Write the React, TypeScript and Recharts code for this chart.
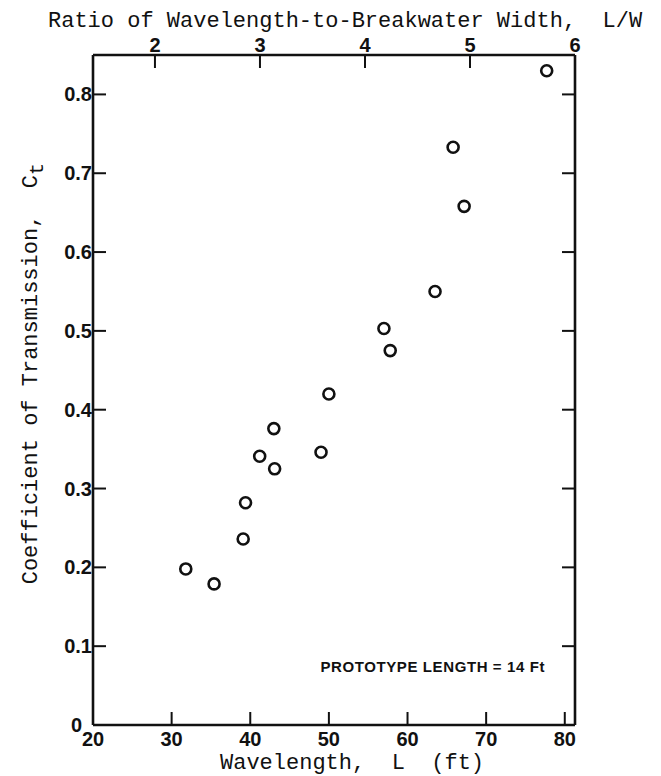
import { ScatterChart, Scatter, XAxis, YAxis } from "recharts";

document.body.style.margin = "0";

// wavelength L (ft) and transmission coefficient Ct
const wavelength = [31.8, 35.4, 39.1, 39.4, 41.2, 43.0, 43.1, 49.0, 50.0, 57.0, 57.8, 63.5, 65.8, 67.2, 77.7];
const transmission = [0.198, 0.179, 0.236, 0.282, 0.341, 0.376, 0.325, 0.346, 0.42, 0.503, 0.475, 0.55, 0.733, 0.658, 0.83];

const wavelengthTicks = [20, 30, 40, 50, 60, 70, 80];
const ratioTicks = [2, 3, 4, 5, 6];
const ctTicks = [0, 0.1, 0.2, 0.3, 0.4, 0.5, 0.6, 0.7, 0.8];

const points = wavelength.map((L, i) => ({ L, ct: transmission[i] }));
const ratioAnchors = ratioTicks.map((ratio) => ({ ratio, ct: 0 }));

const mono = "'Liberation Mono', 'DejaVu Sans Mono', monospace";
const tickFont = {
    fontFamily: "'Liberation Sans', Arial, sans-serif",
    fontWeight: 700,
    fontSize: 20,
    fill: "#111",
};
const INNER = 13;

const BottomTick = (props: any) => {
    const { x, y, payload } = props;
    return (
        <g>
            <line x1={x} x2={x} y1={y} y2={y - INNER} stroke="#111" strokeWidth={2} />
            <text x={x} y={y + 21} textAnchor="middle" style={tickFont}>
                {payload.value}
            </text>
        </g>
    );
};

const TopTick = (props: any) => {
    const { x, y, payload } = props;
    return (
        <g>
            <line x1={x} x2={x} y1={y} y2={y + INNER} stroke="#111" strokeWidth={2} />
            <text x={x} y={y - 3} textAnchor="middle" style={tickFont}>
                {payload.value}
            </text>
        </g>
    );
};

const LeftTick = (props: any) => {
    const { x, y, payload } = props;
    const v = payload.value as number;
    const label = v === 0 ? "0" : v.toFixed(1);
    return (
        <g>
            {v !== 0 && (
                <line x1={x} x2={x + INNER} y1={y} y2={y} stroke="#111" strokeWidth={2} />
            )}
            <text x={v === 0 ? x - 11 : x - 1} y={y + 7} textAnchor="end" style={tickFont}>
                {label}
            </text>
        </g>
    );
};

const RightTick = (props: any) => {
    const { x, y, payload } = props;
    if (payload.value === 0) return <g />;
    return <line x1={x} x2={x - INNER} y1={y} y2={y} stroke="#111" strokeWidth={2} />;
};

const Ring = (props: any) => (
    <circle cx={props.cx} cy={props.cy} r={5.5} fill="#fff" stroke="#111" strokeWidth={2.6} />
);

export default function App() {
    return (
        <div style={{ width: 661, height: 776, background: "#fff" }}>
            <ScatterChart
                width={661}
                height={776}
                margin={{ top: 25, right: 76, bottom: 21, left: 33 }}
            >
                <XAxis
                    xAxisId="bottom"
                    dataKey="L"
                    type="number"
                    domain={[20, 81.3]}
                    ticks={wavelengthTicks}
                    allowDataOverflow
                    height={30}
                    tickSize={0}
                    tickMargin={0}
                    tickLine={false}
                    axisLine={{ stroke: "#111", strokeWidth: 2.6 }}
                    tick={<BottomTick />}
                    label={{
                        content: () => (
                            <text x={220} y={769} style={{ fontFamily: mono, fontSize: 22, fill: "#111" }} xmlSpace="preserve">
                                {"Wavelength,  L  (ft)"}
                            </text>
                        ),
                    }}
                />
                <XAxis
                    xAxisId="top"
                    orientation="top"
                    dataKey="ratio"
                    type="number"
                    domain={[1.41, 6]}
                    ticks={ratioTicks}
                    allowDataOverflow
                    height={30}
                    tickSize={0}
                    tickMargin={0}
                    tickLine={false}
                    axisLine={{ stroke: "#111", strokeWidth: 2.6 }}
                    tick={<TopTick />}
                    label={{
                        content: () => (
                            <text x={48} y={27} style={{ fontFamily: mono, fontSize: 22, fill: "#111" }} xmlSpace="preserve">
                                {"Ratio of Wavelength-to-Breakwater Width,  L/W"}
                            </text>
                        ),
                    }}
                />
                <YAxis
                    yAxisId="left"
                    dataKey="ct"
                    type="number"
                    domain={[0, 0.85]}
                    ticks={ctTicks}
                    allowDataOverflow
                    width={60}
                    tickSize={0}
                    tickMargin={0}
                    tickLine={false}
                    axisLine={{ stroke: "#111", strokeWidth: 2.6 }}
                    tick={<LeftTick />}
                    label={{
                        content: () => (
                            <text
                                x={37}
                                y={163}
                                transform="rotate(-90, 37, 163)"
                                textAnchor="end"
                                style={{ fontFamily: mono, fontSize: 22, fill: "#111" }}
                                xmlSpace="preserve"
                            >
                                {"Coefficient of Transmission,  C"}
                                <tspan dy={6} fontSize={20}>t</tspan>
                            </text>
                        ),
                    }}
                />
                <YAxis
                    yAxisId="right"
                    orientation="right"
                    dataKey="ct"
                    type="number"
                    domain={[0, 0.85]}
                    ticks={ctTicks}
                    allowDataOverflow
                    width={10}
                    tickSize={0}
                    tickMargin={0}
                    tickLine={false}
                    axisLine={{ stroke: "#111", strokeWidth: 2.6 }}
                    tick={<RightTick />}
                    label={{
                        content: () => (
                            <text
                                x={545}
                                y={672}
                                textAnchor="end"
                                style={{
                                    fontFamily: "'Liberation Sans', Arial, sans-serif",
                                    fontWeight: 700,
                                    fontSize: 15,
                                    fill: "#111",
                                    letterSpacing: 0.6,
                                }}
                            >
                                PROTOTYPE LENGTH = 14 Ft
                            </text>
                        ),
                    }}
                />
                <Scatter
                    data={ratioAnchors}
                    xAxisId="top"
                    yAxisId="right"
                    shape={() => <g />}
                    isAnimationActive={false}
                />
                <Scatter
                    data={points}
                    xAxisId="bottom"
                    yAxisId="left"
                    shape={<Ring />}
                    isAnimationActive={false}
                />
            </ScatterChart>
        </div>
    );
}
